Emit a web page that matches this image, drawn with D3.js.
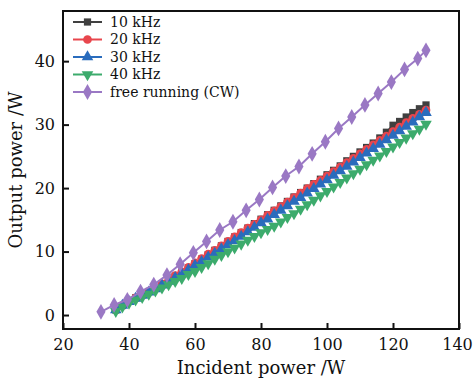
<!DOCTYPE html>
<html>
<head>
<meta charset="utf-8">
<script src="https://cdn.jsdelivr.net/npm/d3@7/dist/d3.min.js"></script>
<style>
	body { margin: 0; background: #fff; }
	svg text { font-family: "DejaVu Serif", "Liberation Serif", serif; fill: #111; }
</style>
</head>
<body>
<div id="chart"></div>
<script>
// incident power (W) for the pulsed runs
const pulsedX = [
	36, 38, 40, 42, 44, 46, 48, 50, 52, 54, 56, 58, 60, 62, 64, 66,
	68, 70, 72, 74, 76, 78, 80, 82, 84, 86, 88, 90, 92, 94, 96, 98,
	100, 102, 104, 106, 108, 110, 112, 114, 116, 118, 120, 122, 124, 126, 128, 130,
];
const out10k = [
	0.8, 1.5, 2.2, 2.7, 3.2, 3.7, 4.3, 4.9, 5.5, 6.1, 6.8, 7.4, 8.1, 8.8, 9.5, 10.2,
	10.9, 11.6, 12.3, 13.0, 13.7, 14.4, 15.1, 15.8, 16.5, 17.2, 17.9, 18.6, 19.3, 20.0, 20.7, 21.4,
	22.1, 22.8, 23.5, 24.3, 25.0, 25.7, 26.4, 27.1, 27.9, 28.8, 29.9, 30.5, 31.2, 31.9, 32.5, 33.1,
];
const out20k = [
	0.8, 1.5, 2.2, 2.7, 3.2, 3.7, 4.3, 4.9, 5.5, 6.2, 6.8, 7.5, 8.2, 8.9, 9.6, 10.2,
	10.9, 11.6, 12.3, 13.0, 13.7, 14.3, 15.0, 15.7, 16.4, 17.1, 17.8, 18.5, 19.2, 19.9, 20.6, 21.2,
	21.9, 22.6, 23.3, 24.0, 24.7, 25.4, 26.1, 26.8, 27.5, 28.2, 28.9, 29.6, 30.3, 31.0, 31.6, 32.3,
];
const out30k = [
	0.8, 1.5, 2.1, 2.6, 3.1, 3.6, 4.1, 4.7, 5.3, 5.9, 6.5, 7.1, 7.8, 8.4, 9.1, 9.7,
	10.4, 11.1, 11.7, 12.4, 13.1, 13.8, 14.5, 15.1, 15.8, 16.5, 17.2, 17.9, 18.5, 19.2, 19.9, 20.6,
	21.3, 22.0, 22.7, 23.4, 24.1, 24.8, 25.5, 26.2, 26.9, 27.6, 28.3, 29.0, 29.7, 30.4, 31.2, 31.9,
];
const out40k = [
	0.6, 1.3, 1.9, 2.4, 2.8, 3.3, 3.8, 4.3, 4.8, 5.3, 5.8, 6.4, 6.9, 7.5, 8.1, 8.8,
	9.4, 10.0, 10.6, 11.2, 11.8, 12.4, 13.0, 13.5, 14.0, 14.7, 15.4, 16.0, 16.7, 17.4, 18.1, 18.8,
	19.5, 20.2, 20.9, 21.6, 22.3, 23.0, 23.7, 24.4, 25.1, 25.8, 26.5, 27.2, 27.9, 28.6, 29.3, 30.1,
];
// free running (CW)
const cwX = [
	31.5, 35.5, 39.5, 43.5, 47.5, 51.5, 55.5, 59.5, 63.5, 67.5, 71.5, 75.5, 79.5,
	83.5, 87.5, 91.5, 95.5, 99.5, 103.5, 107.5, 111.5, 115.5, 119.5, 123.5, 127.5, 130,
];
const outCW = [
	0.5, 1.6, 2.4, 3.7, 4.8, 6.3, 8.0, 9.8, 11.6, 13.4, 14.7, 16.5, 18.2,
	20.1, 21.9, 23.4, 25.4, 27.3, 29.4, 31.2, 33.1, 34.9, 36.7, 38.7, 40.4, 41.7,
];

const xTicks = [ 20, 40, 60, 80, 100, 120, 140 ];
const yTicks = [ 0, 10, 20, 30, 40 ];

const series = [
	{ name: '10 kHz', x: pulsedX, y: out10k, color: '#404040', symbol: d3.symbolSquare, size: 52 },
	{ name: '20 kHz', x: pulsedX, y: out20k, color: '#e8464d', symbol: d3.symbolCircle, size: 60 },
	{ name: '30 kHz', x: pulsedX, y: out30k, color: '#2a6cbd', symbol: d3.symbolTriangle, size: 58 },
	{ name: '40 kHz', x: pulsedX, y: out40k, color: '#3cab6c', symbol: 'down', size: 58 },
	{ name: 'free running (CW)', x: cwX, y: outCW, color: '#9a78c4', symbol: d3.symbolDiamond, size: 72 },
];

const width = 474;
const height = 379;
const margin = { top: 11, right: 15, bottom: 50, left: 63 };

const svg = d3.select( '#chart' )
	.append( 'svg' )
	.attr( 'width', width )
	.attr( 'height', height );

const x = d3.scaleLinear()
	.domain( [ 20, 140 ] )
	.range( [ margin.left, width - margin.right ] );

const y = d3.scaleLinear()
	.domain( [ -2.2, 47.9 ] )
	.range( [ height - margin.bottom, margin.top ] );

// builds a marker path, "down" is a triangle turned over later
function markerPath( s ) {
	if ( s.symbol === 'down' ) {
		return d3.symbol( d3.symbolTriangle, s.size )();
	}
	return d3.symbol( s.symbol, s.size )();
}

const line = d3.line();

const plot = svg.append( 'g' );

series.forEach( ( s ) => {
	const pts = s.x.map( ( v, i ) => [ x( v ), y( s.y[ i ] ) ] );
	const g = plot.append( 'g' );

	g.append( 'path' )
		.attr( 'd', line( pts ) )
		.attr( 'fill', 'none' )
		.attr( 'stroke', s.color )
		.attr( 'stroke-width', 2 );

	g.selectAll( 'path.mark' )
		.data( pts )
		.enter()
		.append( 'path' )
		.attr( 'class', 'mark' )
		.attr( 'd', markerPath( s ) )
		.attr( 'transform', ( d ) => `translate(${ d[ 0 ] },${ d[ 1 ] })` + ( s.symbol === 'down' ? ' rotate(180)' : '' ) )
		.attr( 'fill', s.color );
} );

// axes (ticks point inward, only left and bottom)
const xAxis = svg.append( 'g' )
	.attr( 'transform', `translate(0,${ height - margin.bottom })` )
	.call( d3.axisBottom( x ).tickValues( xTicks ).tickSizeInner( -6 ).tickSizeOuter( 0 ).tickPadding( 10 ) );

const yAxis = svg.append( 'g' )
	.attr( 'transform', `translate(${ margin.left },0)` )
	.call( d3.axisLeft( y ).tickValues( yTicks ).tickSizeInner( -6 ).tickSizeOuter( 0 ).tickPadding( 8 ) );

[ xAxis, yAxis ].forEach( ( a ) => {
	a.select( '.domain' ).remove();
	a.selectAll( '.tick line' ).attr( 'stroke', '#111' ).attr( 'stroke-width', 2 );
	a.selectAll( '.tick text' ).style( 'font-size', '16px' ).attr( 'fill', '#111' );
} );

// keep the last x label inside the window
xAxis.selectAll( '.tick:last-of-type text' ).attr( 'dx', -2 );

// frame
svg.append( 'rect' )
	.attr( 'x', margin.left )
	.attr( 'y', margin.top )
	.attr( 'width', width - margin.left - margin.right )
	.attr( 'height', height - margin.top - margin.bottom )
	.attr( 'fill', 'none' )
	.attr( 'stroke', '#111' )
	.attr( 'stroke-width', 2 );

svg.append( 'text' )
	.attr( 'x', ( margin.left + width - margin.right ) / 2 )
	.attr( 'y', 374 )
	.attr( 'text-anchor', 'middle' )
	.style( 'font-size', '18px' )
	.text( 'Incident power /W' );

svg.append( 'text' )
	.attr( 'transform', `translate(22,${ ( margin.top + height - margin.bottom ) / 2 }) rotate(-90)` )
	.attr( 'text-anchor', 'middle' )
	.style( 'font-size', '18px' )
	.text( 'Output power /W' );

// legend
const legend = svg.append( 'g' )
	.attr( 'transform', 'translate(73,22)' );

series.forEach( ( s, i ) => {
	const row = legend.append( 'g' )
		.attr( 'transform', `translate(0,${ i * 17.5 })` );

	row.append( 'line' )
		.attr( 'x1', 0 )
		.attr( 'x2', 29 )
		.attr( 'stroke', s.color )
		.attr( 'stroke-width', 2 );

	row.append( 'path' )
		.attr( 'd', markerPath( s ) )
		.attr( 'transform', 'translate(14.5,0)' + ( s.symbol === 'down' ? ' rotate(180)' : '' ) )
		.attr( 'fill', s.color );

	row.append( 'text' )
		.attr( 'x', 37 )
		.attr( 'dy', '0.35em' )
		.style( 'font-size', '14px' )
		.text( s.name );
} );
</script>
</body>
</html>
